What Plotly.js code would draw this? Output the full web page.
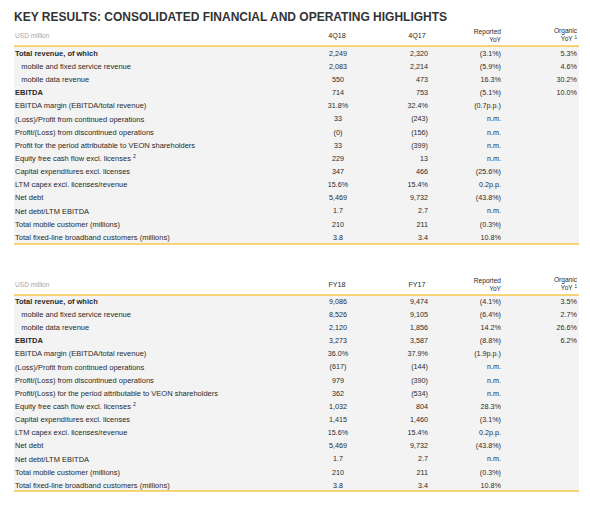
<!DOCTYPE html>
<html>
<head>
<meta charset="utf-8">
<script src="https://cdn.plot.ly/plotly-3.0.1.min.js"></script>
<style>html,body{margin:0;padding:0;background:#fff;}</style>
</head>
<body>
<div id="chart" style="width:590px;height:505px;"></div>
<script>
// ---- data ----
const titleText = "KEY RESULTS: CONSOLIDATED FINANCIAL AND OPERATING HIGHLIGHTS";
const unitLabel = "USD million";
const IND = "\u00a0\u00a0\u00a0";
const rowLabelsQ = ["<b>Total revenue, of which</b>", IND + "mobile and fixed service revenue", IND + "mobile data revenue", "<b>EBITDA</b>",
  "EBITDA margin (EBITDA/total revenue)", "(Loss)/Profit from continued operations", "Profit/(Loss) from discontinued operations",
  "Profit for the period attributable to VEON shareholders", "Equity free cash flow excl. licenses <sup>2</sup>",
  "Capital expenditures excl. licenses", "LTM capex excl. licenses/revenue", "Net debt", "Net debt/LTM EBITDA",
  "Total mobile customer (millions)", "Total fixed-line broadband customers (millions)"];
const rowLabelsFY = ["<b>Total revenue, of which</b>", IND + "mobile and fixed service revenue", IND + "mobile data revenue", "<b>EBITDA</b>",
  "EBITDA margin (EBITDA/total revenue)", "(Loss)/Profit from continued operations", "Profit/(Loss) from discontinued operations",
  "Profit/(Loss) for the period attributable to VEON shareholders", "Equity free cash flow excl. licenses <sup>2</sup>",
  "Capital expenditures excl. licenses", "LTM capex excl. licenses/revenue", "Net debt", "Net debt/LTM EBITDA",
  "Total mobile customer (millions)", "Total fixed-line broadband customers (millions)"];
const headersQ = ["4Q18", "4Q17", "Reported<br>YoY", "Organic<br>YoY <sup>1</sup>"];
const headersFY = ["FY18", "FY17", "Reported<br>YoY", "Organic<br>YoY <sup>1</sup>"];
const q418 = ["2,249","2,083","550","714","31.8%","33","(0)","33","229","347","15.6%","5,469","1.7","210","3.8"];
const q417 = ["2,320","2,214","473","753","32.4%","(243)","(156)","(399)","13","466","15.4%","9,732","2.7","211","3.4"];
const repQ = ["(3.1%)","(5.9%)","16.3%","(5.1%)","(0.7p.p.)","n.m.","n.m.","n.m.","n.m.","(25.6%)","0.2p.p.","(43.8%)","n.m.","(0.3%)","10.8%"];
const orgQ = ["5.3%","4.6%","30.2%","10.0%"];
const fy18 = ["9,086","8,526","2,120","3,273","36.0%","(617)","979","362","1,032","1,415","15.6%","5,469","1.7","210","3.8"];
const fy17 = ["9,474","9,105","1,856","3,587","37.9%","(144)","(390)","(534)","804","1,460","15.4%","9,732","2.7","211","3.4"];
const repFY = ["(4.1%)","(6.4%)","14.2%","(8.8%)","(1.9p.p.)","n.m.","n.m.","n.m.","28.3%","(3.1%)","0.2p.p.","(43.8%)","n.m.","(0.3%)","10.8%"];
const orgFY = ["3.5%","2.7%","26.6%","6.2%"];

// ---- layout constants ----
const W = 590, H = 505;
const px = v => v / W, py = v => 1 - v / H;
const FONT = "Liberation Sans, Arial, sans-serif";
const GRAY = "#f3f3f3", GOLD = "#f6c84a", TXT = "#2a2a2a", UNIT = "#a6a6a6";
const FS = 7.2, FS_LABEL = 7.5;
// column anchors in x-axis units (x axis spans the page width)
const COL = {label: 15, c1: 338, c2: 428, c3: 501, c4: 577, h1: 337, h2: 417};
const ROW_STEP = 13.14;
const tables = [
  {top: 25, bottom: 244, firstRow: 54, headY: 36.5, box: [46, 244]},
  {top: 274, bottom: 492, firstRow: 302, headY: 285.5, box: [295, 491]}
];

function txt(x, texts, pos, yaxis, color, yv, size) {
  return {
    type: "scatter", mode: "text",
    x: texts.map(() => x),
    y: yv !== undefined ? texts.map(() => yv) : texts.map((_, i) => i),
    text: texts, textposition: pos, yaxis: yaxis, cliponaxis: false, hoverinfo: "skip",
    textfont: {family: FONT, size: size || FS, color: color || TXT}
  };
}

function tableTraces(t, yaxis, labels, headers, c1, c2, c3, c4) {
  const hy = (t.headY - t.firstRow) / ROW_STEP;
  return [
    txt(COL.label, labels, "middle right", yaxis, TXT, undefined, FS_LABEL),
    txt(COL.c1, c1, "middle center", yaxis),
    txt(COL.c2, c2, "middle left", yaxis),
    txt(COL.c3, c3, "middle left", yaxis),
    txt(COL.c4, c4, "middle left", yaxis),
    txt(COL.label, [unitLabel], "middle right", yaxis, UNIT, hy, 6.6),
    txt(COL.h1, [headers[0]], "middle center", yaxis, TXT, hy),
    txt(COL.h2, [headers[1]], "middle center", yaxis, TXT, hy),
    txt(COL.c3, [headers[2]], "middle left", yaxis, TXT, hy, 6.6),
    txt(COL.c4, [headers[3]], "middle left", yaxis, TXT, hy - 0.08, 6.6)
  ];
}

const data = [].concat(
  tableTraces(tables[0], "y", rowLabelsQ, headersQ, q418, q417, repQ, orgQ),
  tableTraces(tables[1], "y2", rowLabelsFY, headersFY, fy18, fy17, repFY, orgFY)
);

function yRange(t) {
  const r0 = -(t.firstRow - t.top) / ROW_STEP;
  const r1 = r0 + (t.bottom - t.top) / ROW_STEP;
  return [r1, r0];
}

function band(y0, y1) {
  return [
    {type: "rect", xref: "paper", yref: "paper", x0: px(14), x1: px(579), y0: py(y1), y1: py(y0), fillcolor: GRAY, line: {width: 0}, layer: "below"},
    {type: "line", xref: "paper", yref: "paper", x0: px(14), x1: px(579), y0: py(y0), y1: py(y0), line: {color: GOLD, width: 1.6}, layer: "below"},
    {type: "line", xref: "paper", yref: "paper", x0: px(14), x1: px(579), y0: py(y1), y1: py(y1), line: {color: GOLD, width: 1.6}, layer: "below"}
  ];
}

const hidden = {visible: false, showgrid: false, zeroline: false, fixedrange: true};
const layout = {
  width: W, height: H,
  margin: {l: 0, r: 0, t: 0, b: 0},
  paper_bgcolor: "#ffffff", plot_bgcolor: "rgba(0,0,0,0)",
  title: {text: titleText, x: px(14), xanchor: "left", xref: "paper", y: py(17), yref: "paper", yanchor: "middle",
    font: {family: FONT, size: 12, color: "#333333", weight: "bold"}},
  xaxis: Object.assign({range: [0, W], domain: [0, 1]}, hidden),
  yaxis: Object.assign({range: yRange(tables[0]), domain: [py(tables[0].bottom), py(tables[0].top)]}, hidden),
  yaxis2: Object.assign({range: yRange(tables[1]), domain: [py(tables[1].bottom), py(tables[1].top)], anchor: "x"}, hidden),
  shapes: band(tables[0].box[0], tables[0].box[1]).concat(band(tables[1].box[0], tables[1].box[1])),
  showlegend: false
};

Plotly.newPlot("chart", data, layout, {displayModeBar: false, staticPlot: true});
</script>
</body>
</html>
